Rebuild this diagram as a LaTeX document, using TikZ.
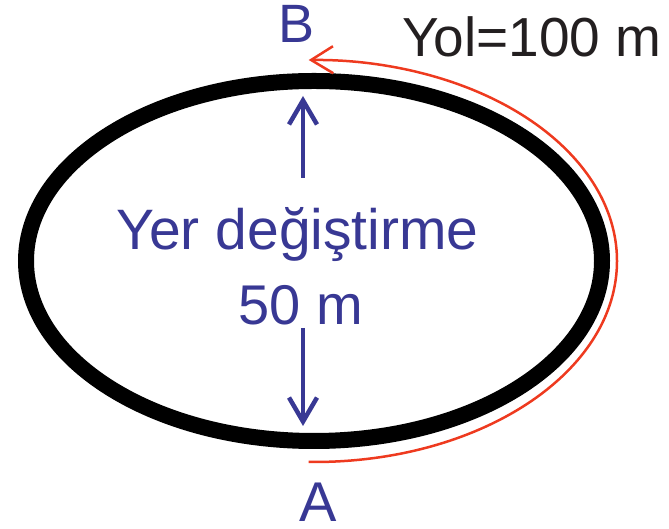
\documentclass[tikz,border=0pt]{standalone}
\usepackage{fontspec}
\setmainfont{Liberation Sans}
\usetikzlibrary{shapes.geometric,arrows.meta}
\definecolor{dispblue}{HTML}{383894}
\definecolor{pathred}{HTML}{EE3A1F}
\definecolor{ink}{HTML}{231F20}

\begin{document}
\begin{tikzpicture}[x=1pt, y=1pt,
  track/.style={draw=black, ellipse, line width=16pt, inner sep=0pt, minimum width=576pt, minimum height=360pt},
  lbl/.style={text=dispblue, anchor=base, inner sep=0pt},
  disp/.style={-{Straight Barb[length=24pt, width=28pt]}, draw=dispblue, line width=4.5pt},
  route/.style={-{Straight Barb[length=22pt, width=27pt]}, draw=pathred, line width=2.5pt}]
\useasboundingbox (0,0) rectangle (669,529);
\node[track] (yol) at (314,268) {};
\node[lbl, font=\fontsize{57}{68}\selectfont] (deg) at (297.5,279) {Yer değiştirme};
\node[lbl, font=\fontsize{56}{67}\selectfont] (mes) at (301,204) {50 m};
\node[lbl, font=\fontsize{54}{65}\selectfont] (B) at (297,486) {B};
\node[lbl, font=\fontsize{56}{67}\selectfont] (A) at (318,7) {A};
\node[anchor=base west, inner sep=0pt, text=ink, font=\fontsize{55}{66}\selectfont] (yl) at (402,472) {Yol=100 m};
\coordinate (upS) at (303,351);
\coordinate (dnS) at (303,201);
\draw[disp, shorten >=23pt] (upS) -- (upS |- yol.north);
\draw[disp, shorten >=23pt] (dnS) -- (dnS |- yol.south);
\draw[route] (yol.center) ++(269:303 and 201) arc[start angle=269, end angle=451, x radius=303, y radius=201];
\end{tikzpicture}
\end{document}
